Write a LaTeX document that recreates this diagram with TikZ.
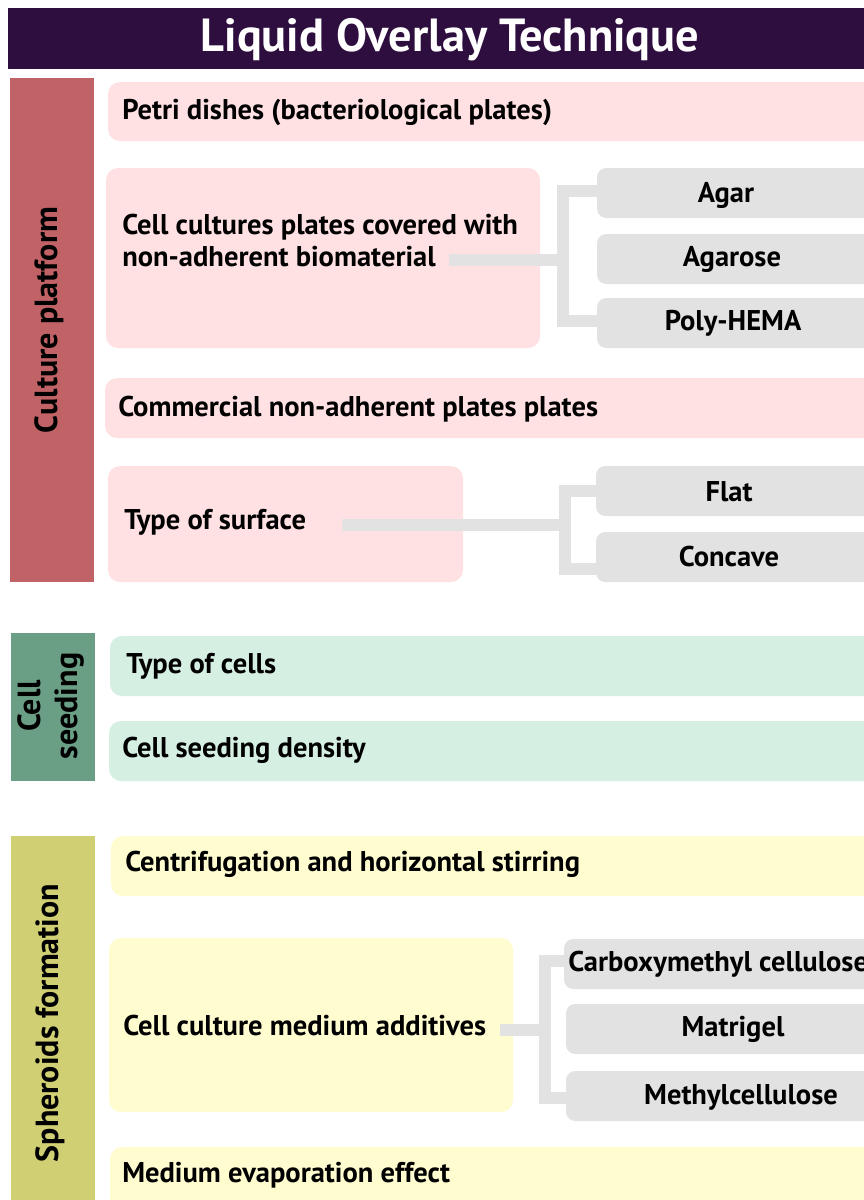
\documentclass[tikz,border=0pt]{standalone}
\usepackage{fontspec}
\setmainfont{PT Sans}
\usetikzlibrary{fit}
\definecolor{titlebg}{HTML}{2D0E3E}
\definecolor{redbar}{HTML}{C16366}
\definecolor{pinkbox}{HTML}{FFE1E3}
\definecolor{greenbar}{HTML}{6A9F86}
\definecolor{greenbox}{HTML}{D5EFE3}
\definecolor{yellowbar}{HTML}{D1CF73}
\definecolor{yellowbox}{HTML}{FFFDD0}
\definecolor{graybox}{HTML}{E2E2E2}
\tikzset{
  bar/.style={inner sep=0pt, draw=none},
  rbox/.style={inner sep=0pt, draw=none, rounded corners=9pt},
  gbox/.style={inner sep=0pt, draw=none, fill=graybox, rounded corners=7pt},
  txt/.style={font=\bfseries\fontsize{21.4}{24}\selectfont, anchor=west, inner sep=0pt, align=left},
  ctxt/.style={font=\bfseries\fontsize{21.4}{24}\selectfont, inner sep=0pt},
  vtxt/.style={font=\bfseries\fontsize{24}{28}\selectfont, rotate=90, inner sep=0pt, align=center},
  conn/.style={draw=graybox, line width=9pt, line join=miter, line cap=butt},
}
\begin{document}
\begin{tikzpicture}[x=0.75pt, y=-0.75pt]
\clip (0,0) rectangle (864,1200);
\fill[white] (0,0) rectangle (864,1200);
% title
\node[bar, fill=titlebg, fit={(8,8)(880,69)}] (title) {};
\node[font=\bfseries\fontsize{34.8}{40}\selectfont, text=white, inner sep=0pt] (titletxt) at (450,40) {Liquid Overlay Technique};
% side bars
\node[bar, fill=redbar, fit={(10,78)(94,582)}] (cp) {};
\node[vtxt] (cptxt) at (49,320) {Culture platform};
\node[bar, fill=greenbar, fit={(11,633)(95,781)}] (cs) {};
\node[vtxt] (cstxt) at (51,706) {Cell\\seeding};
\node[bar, fill=yellowbar, fit={(11,836)(95,1210)}] (sf) {};
\node[vtxt] (sftxt) at (50,1023) {Spheroids formation};
% culture platform boxes
\node[rbox, fill=pinkbox, fit={(108,82)(890,141)}] (petri) {};
\node[txt] (petritxt) at (122,112) {Petri dishes (bacteriological plates)};
\node[rbox, fill=pinkbox, fit={(106,168)(540,348)}] (ccp) {};
\node[txt] (ccptxt) at (122,241) {Cell cultures plates covered with\\non-adherent biomaterial};
\node[gbox, fit={(597,168)(890,218)}] (agar) {};
\node[ctxt] (agartxt) at (726,195) {Agar};
\node[gbox, fit={(597,234)(890,284)}] (agarose) {};
\node[ctxt] (agarosetxt) at (732,259) {Agarose};
\node[gbox, fit={(597,298)(890,348)}] (poly) {};
\node[ctxt] (polytxt) at (733,323) {Poly-HEMA};
\node[rbox, fill=pinkbox, fit={(105,378)(890,438)}] (comm) {};
\node[txt] (commtxt) at (118,409) {Commercial non-adherent plates plates};
\node[rbox, fill=pinkbox, fit={(108,466)(463,582)}] (surf) {};
\node[txt] (surftxt) at (124,522) {Type of surface};
\node[gbox, fit={(596,466)(890,516)}] (flat) {};
\node[ctxt] (flattxt) at (729,492) {Flat};
\node[gbox, fit={(596,532)(890,582)}] (conc) {};
\node[ctxt] (conctxt) at (729,557) {Concave};
% cell seeding boxes
\node[rbox, fill=greenbox, fit={(110,636)(890,696)}] (toc) {};
\node[txt] (toctxt) at (126,666) {Type of cells};
\node[rbox, fill=greenbox, fit={(109,721)(890,781)}] (csd) {};
\node[txt] (csdtxt) at (122,750) {Cell seeding density};
% spheroids boxes
\node[rbox, fill=yellowbox, fit={(111,836)(890,896)}] (cent) {};
\node[txt] (centtxt) at (125,864) {Centrifugation and horizontal stirring};
\node[rbox, fill=yellowbox, fit={(109,938)(513,1112)}] (add) {};
\node[txt] (addtxt) at (123,1026) {Cell culture medium additives};
\node[gbox, fit={(564,939)(890,989)}] (cmc) {};
\node[ctxt, anchor=west] (cmctxt) at (568,964) {Carboxymethyl cellulose};
\node[gbox, fit={(566,1004)(890,1054)}] (mat) {};
\node[ctxt] (mattxt) at (733,1029) {Matrigel};
\node[gbox, fit={(566,1071)(890,1121)}] (mc) {};
\node[ctxt] (mctxt) at (741,1097) {Methylcellulose};
\node[rbox, fill=yellowbox, fit={(110,1147)(890,1215)}] (evap) {};
\node[txt] (evaptxt) at (122,1175) {Medium evaporation effect};
% connectors
\coordinate (s1) at (449,260);
\coordinate (j1) at (563,260);
\draw[conn] (s1) -- (j1);
\draw[conn] (agar.west |- 0,191) -| (j1) |- (poly.west |- 0,321);
\coordinate (s2) at (342,525);
\coordinate (j2) at (565,525);
\draw[conn] (s2) -- (j2);
\draw[conn] (flat.west |- 0,491) -| (j2) |- (conc.west |- 0,569);
\coordinate (s3) at (500,1030);
\coordinate (j3) at (545,1030);
\draw[conn] (s3) -- (j3);
\draw[conn] (cmc.west |- 0,961) -| (j3) |- (mc.west |- 0,1098);
\end{tikzpicture}
\end{document}
